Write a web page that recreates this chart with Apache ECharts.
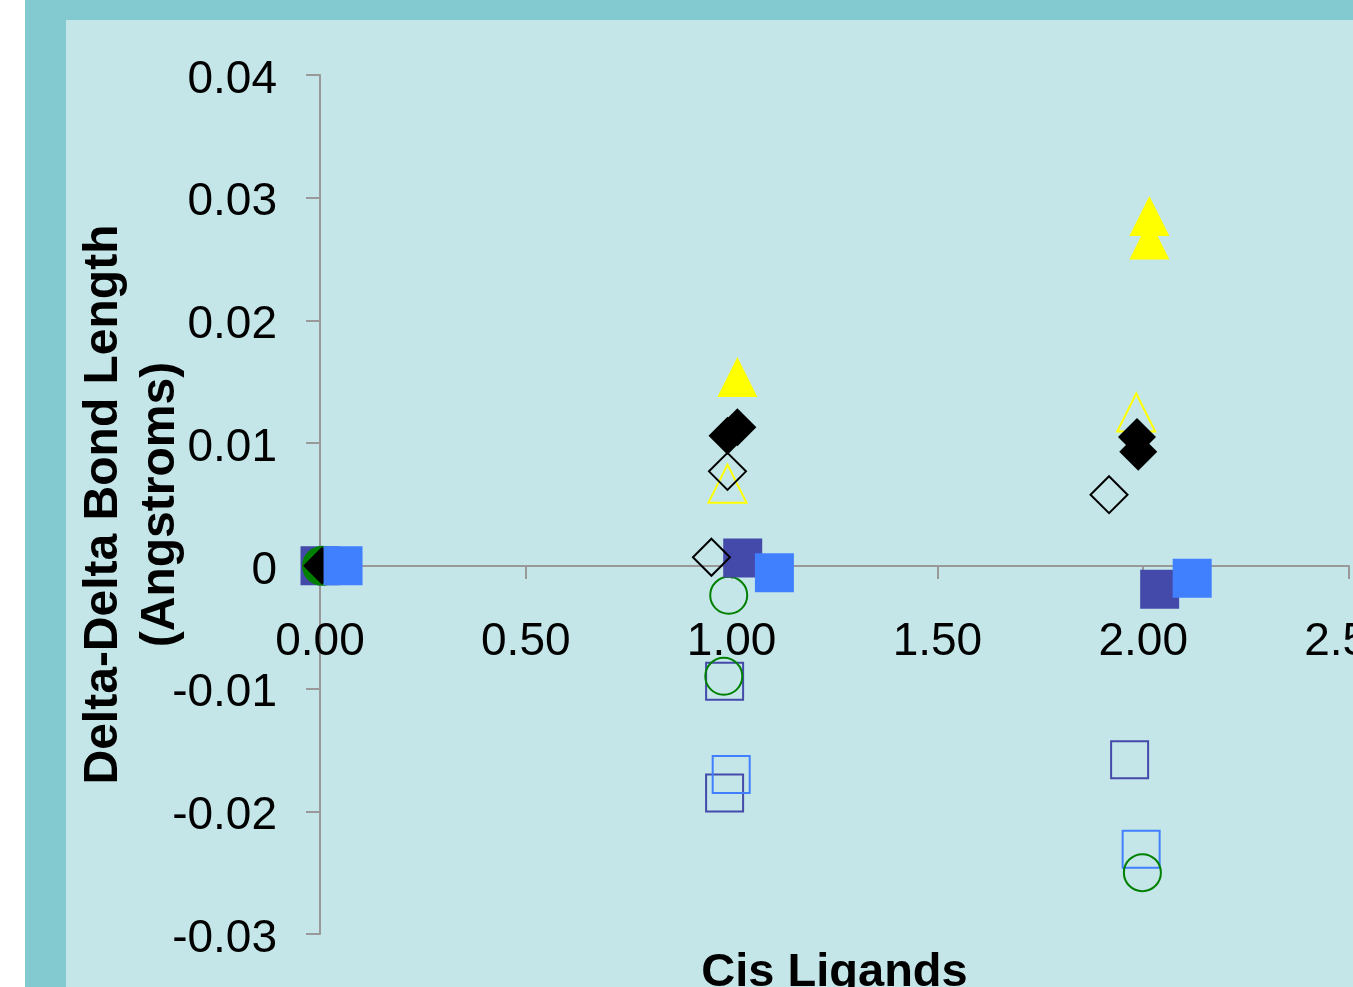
<!DOCTYPE html>
<html>
<head>
<meta charset="utf-8">
<script src="https://cdn.jsdelivr.net/npm/echarts@6/dist/echarts.min.js"></script>
<style>
  html, body { margin: 0; padding: 0; background: #fff; }
  #chart { width: 1353px; height: 987px; }
</style>
</head>
<body>
<div id="chart"></div>
<script>
// tick labels
const xTickLabels = ['0.00', '0.50', '1.00', '1.50', '2.00', '2.50'];
const yTickLabels = ['-0.03', '-0.02', '-0.01', '0', '0.01', '0.02', '0.03', '0.04'];

// filled markers
const darkSqFillX = [0, 1.027, 2.04];
const darkSqFillY = [0, 0.00065, -0.0019];
const lightSqFillX = [0.056, 1.104, 2.119];
const lightSqFillY = [0, -0.00057, -0.0010];
const blackDiaFillX = [0.005, 1.014, 0.99, 1.985, 1.988];
const blackDiaFillY = [0, 0.0113, 0.0106, 0.0105, 0.0093];
const yellowTriFillX = [1.014, 2.015, 2.015];
const yellowTriFillY = [0.0154, 0.0285, 0.0266];
const greenCirFillX = [0.005];
const greenCirFillY = [0];

// open markers
const darkSqOpenX = [0.983, 0.983, 1.967];
const darkSqOpenY = [-0.0094, -0.0185, -0.0158];
const lightSqOpenX = [0.999, 1.995];
const lightSqOpenY = [-0.0170, -0.0231];
const blackDiaOpenX = [0.99, 0.951, 1.917];
const blackDiaOpenY = [0.0077, 0.0007, 0.0058];
const yellowTriOpenX = [0.99, 1.983];
const yellowTriOpenY = [0.0067, 0.0125];
const greenCirOpenX = [0.993, 0.981, 1.998];
const greenCirOpenY = [-0.0024, -0.0090, -0.0250];

const DARK_BLUE = '#444AAA';
const LIGHT_BLUE = '#4080FF';
const YELLOW = '#FFFF00';
const GREEN = '#008000';
const BLACK = '#000000';
const FONT = 'Liberation Sans, Arial, sans-serif';

function pairs(xs, ys) {
  return xs.map((x, i) => [x, ys[i]]);
}

function filled(name, xs, ys, symbol, size, color) {
  return {
    name: name,
    type: 'scatter',
    symbol: symbol,
    symbolSize: size,
    itemStyle: { color: color, opacity: 1 },
    data: pairs(xs, ys)
  };
}

function open(name, xs, ys, symbol, size, color) {
  return {
    name: name,
    type: 'scatter',
    symbol: symbol,
    symbolSize: size,
    itemStyle: { color: 'rgba(0,0,0,0)', borderColor: color, borderWidth: 2, opacity: 1 },
    data: pairs(xs, ys)
  };
}

const chart = echarts.init(document.getElementById('chart'));

const option = {
  backgroundColor: '#ffffff',
  animation: false,
  graphic: {
    z: -10,
    elements: [
      { type: 'rect', shape: { x: 25, y: 0, width: 1328, height: 987 }, style: { fill: '#82C9D0' }, silent: true },
      { type: 'rect', shape: { x: 66, y: 20, width: 1287, height: 967 }, style: { fill: '#C4E6E8' }, silent: true }
    ]
  },
  grid: { left: 320, right: 4, top: 75, bottom: 53, outerBoundsMode: 'none', containLabel: false },
  xAxis: {
    type: 'value',
    min: 0,
    max: 2.5,
    interval: 0.5,
    // move the x axis up to y = 0 (0 sits 4/7 of the way down the y range)
    offset: -368,
    name: 'Cis Ligands',
    nameLocation: 'middle',
    nameGap: 384,
    nameMoveOverlap: false,
    nameTextStyle: { fontFamily: FONT, fontSize: 47, fontWeight: 'bold', color: '#000' },
    axisLine: { onZero: false, lineStyle: { color: '#999999', width: 2 } },
    axisTick: { show: true, length: 13, lineStyle: { color: '#999999', width: 2 } },
    axisLabel: {
      margin: 53,
      fontFamily: FONT,
      fontSize: 46,
      color: '#000',
      formatter: function (v) { return xTickLabels[Math.round(v / 0.5)]; }
    },
    splitLine: { show: false }
  },
  yAxis: {
    type: 'value',
    min: -0.03,
    max: 0.04,
    interval: 0.01,
    name: 'Delta-Delta Bond Length\n(Angstroms)',
    nameLocation: 'middle',
    nameRotate: 90,
    nameGap: 131,
    nameMoveOverlap: false,
    nameTextStyle: { fontFamily: FONT, fontSize: 48, fontWeight: 'bold', color: '#000', lineHeight: 57 },
    axisLine: { show: true, lineStyle: { color: '#999999', width: 2 } },
    axisTick: { show: true, length: 14, lineStyle: { color: '#999999', width: 2 } },
    axisLabel: {
      margin: 43,
      fontFamily: FONT,
      fontSize: 46,
      color: '#000',
      formatter: function (v) { return '{t|' + yTickLabels[Math.round(v / 0.01) + 3] + '}'; },
      rich: {
        t: { fontFamily: FONT, fontSize: 46, color: '#000', padding: [10, 0, 0, 0] }
      }
    },
    splitLine: { show: false }
  },
  series: [
    open('darkSqOpen', darkSqOpenX, darkSqOpenY, 'rect', 37, DARK_BLUE),
    open('lightSqOpen', lightSqOpenX, lightSqOpenY, 'rect', 37, LIGHT_BLUE),
    open('greenCirOpen', greenCirOpenX, greenCirOpenY, 'circle', 37, GREEN),
    open('yellowTriOpen', yellowTriOpenX, yellowTriOpenY, 'triangle', 38, YELLOW),
    filled('darkSqFill', darkSqFillX, darkSqFillY, 'rect', 39, DARK_BLUE),
    filled('greenCirFill', greenCirFillX, greenCirFillY, 'circle', 40, GREEN),
    filled('yellowTriFill', yellowTriFillX, yellowTriFillY, 'triangle', 40, YELLOW),
    open('blackDiaOpen', blackDiaOpenX, blackDiaOpenY, 'diamond', 37, BLACK),
    filled('blackDiaFill', blackDiaFillX, blackDiaFillY, 'diamond', 38, BLACK),
    filled('lightSqFill', lightSqFillX, lightSqFillY, 'rect', 39, LIGHT_BLUE)
  ]
};

chart.setOption(option);
</script>
</body>
</html>
